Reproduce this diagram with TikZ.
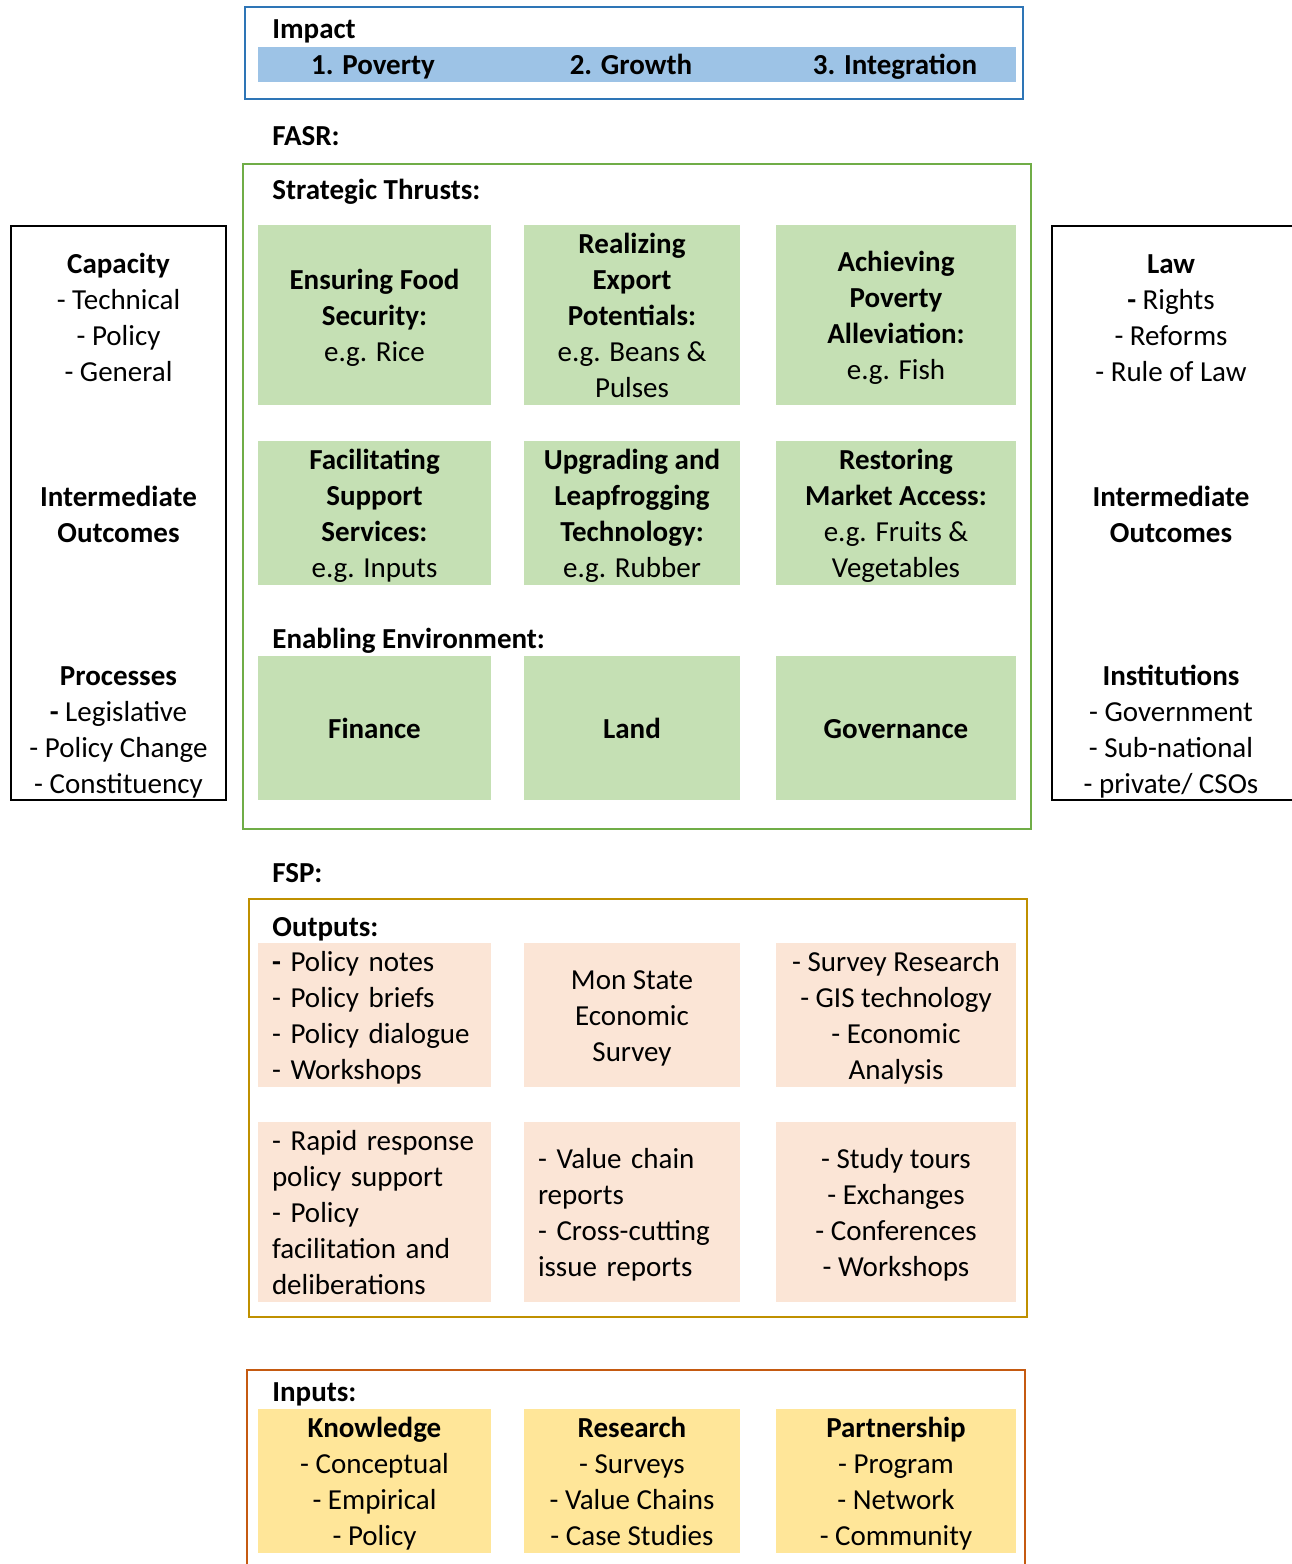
\documentclass[tikz,border=0pt]{standalone}
\usepackage{fontspec}
\setmainfont{Carlito}
\usepackage{tikz}
\usetikzlibrary{positioning}
\definecolor{impblue}{HTML}{2E75B6}
\definecolor{barblue}{HTML}{9DC3E6}
\definecolor{fasrgreen}{HTML}{70AD47}
\definecolor{cellgreen}{HTML}{C5E0B4}
\definecolor{fspgold}{HTML}{BF9000}
\definecolor{cellpeach}{HTML}{FBE5D6}
\definecolor{inorange}{HTML}{C55A11}
\definecolor{cellyellow}{HTML}{FFE699}
\newcommand{\cellstrut}{\rule{0pt}{14.1pt}}

\tikzset{
  txt/.style={font=\fontsize{14.5}{18}\selectfont, inner sep=0pt, align=center,
    execute at end node={\rule[-3.5pt]{0pt}{3.5pt}}},
  head/.style={txt, font=\fontsize{14.5}{18}\selectfont\bfseries, anchor=base west},
  frame/.style={draw, line width=1pt},
  gcell/.style={txt, fill=cellgreen},
  pcell/.style={txt, fill=cellpeach},
  ycell/.style={txt, fill=cellyellow},
  lcell/.style={align=left, inner xsep=7pt, inner ysep=0pt},
  colA/.style={minimum width=116.5pt},
  colB/.style={minimum width=108pt},
  colC/.style={minimum width=120pt},
  tall/.style={minimum height=90pt},
  short/.style={minimum height=72pt}
}

\begin{document}
\begin{tikzpicture}[x=0.5pt, y=-0.5pt]
\useasboundingbox (0,0) rectangle (1291,1564);

% impact
\draw[frame, impblue, line width=1.2pt] (245,7) rectangle (1023,99);
\node[fill=barblue, minimum width=379pt, minimum height=17.5pt, inner sep=0pt] (bar) at (637,64.5) {};
\node[head] (imp) at (272,38) {Impact};
\node[txt, font=\fontsize{14.5}{18}\selectfont\bfseries, anchor=base] (pov) at (373,74) {1. Poverty};
\node[txt, font=\fontsize{14.5}{18}\selectfont\bfseries, anchor=base] (grw) at (631,74) {2. Growth};
\node[txt, font=\fontsize{14.5}{18}\selectfont\bfseries, anchor=base] (intg) at (895,74) {3. Integration};

% FASR
\node[head] (fasr) at (272,145) {FASR:};
\draw[frame, fasrgreen] (243,164) rectangle (1031,829);
\node[head] (thr) at (272,199) {Strategic Thrusts:};
\node[gcell, colA, tall] (g11) at (374.5,315) {\cellstrut\textbf{Ensuring Food}\\\textbf{Security:}\\e.g. Rice};
\node[gcell, colB, tall] (g12) at (632,315) {\cellstrut\textbf{Realizing}\\\textbf{Export}\\\textbf{Potentials:}\\e.g. Beans \&\\Pulses};
\node[gcell, colC, tall] (g13) at (896,315) {\cellstrut\textbf{Achieving}\\\textbf{Poverty}\\\textbf{Alleviation:}\\e.g. Fish};
\node[gcell, colA, short] (g21) at (374.5,513) {\cellstrut\textbf{Facilitating}\\\textbf{Support}\\\textbf{Services:}\\e.g. Inputs};
\node[gcell, colB, short] (g22) at (632,513) {\cellstrut\textbf{Upgrading and}\\\textbf{Leapfrogging}\\\textbf{Technology:}\\e.g. Rubber};
\node[gcell, colC, short] (g23) at (896,513) {\cellstrut\textbf{Restoring}\\\textbf{Market Access:}\\e.g. Fruits \&\\Vegetables};
\node[head] (env) at (272,648) {Enabling Environment:};
\node[gcell, colA, short] (fin) at (374.5,728) {\cellstrut\textbf{Finance}};
\node[gcell, colB, short] (land) at (632,728) {\cellstrut\textbf{Land}};
\node[gcell, colC, short] (gov) at (896,728) {\cellstrut\textbf{Governance}};

% side boxes
\node[frame, minimum width=107.5pt, minimum height=287pt, inner sep=0pt] (lbox) at (118.5,513) {};
\node[txt] (cap) at (118.5,317) {\cellstrut\textbf{Capacity}\\- Technical\\- Policy\\- General};
\node[txt] (lmid) at (118.5,514) {\cellstrut\textbf{Intermediate}\\\textbf{Outcomes}};
\node[txt] (proc) at (118.5,729) {\cellstrut\textbf{Processes}\\\textbf{-} Legislative\\- Policy Change\\- Constituency};
\node[frame, minimum width=124pt, minimum height=287pt, inner sep=0pt] (rbox) at (1176,513) {};
\node[txt] (law) at (1171,317) {\cellstrut\textbf{Law}\\\textbf{-} Rights\\- Reforms\\- Rule of Law};
\node[txt] (rmid) at (1171,514) {\cellstrut\textbf{Intermediate}\\\textbf{Outcomes}};
\node[txt] (inst) at (1171,729) {\cellstrut\textbf{Institutions}\\- Government\\- Sub-national\\- private/ CSOs};

% FSP outputs
\node[head] (fsp) at (272,882) {FSP:};
\draw[frame, fspgold] (249,899) rectangle (1027,1317);
\node[head] (outp) at (272,936) {Outputs:};
\node[pcell, lcell, text width=102.5pt, short] (o11) at (374.5,1015) {\cellstrut\textbf{-} Policy notes\\- Policy briefs\\- Policy dialogue\\- Workshops};
\node[pcell, colB, short] (o12) at (632,1015) {\cellstrut Mon State\\Economic\\Survey};
\node[pcell, colC, short] (o13) at (896,1015) {\cellstrut- Survey Research\\- GIS technology\\- Economic\\Analysis};
\node[pcell, lcell, text width=102.5pt, tall] (o21) at (374.5,1212) {\cellstrut- Rapid response\\policy support\\- Policy\\facilitation and\\deliberations};
\node[pcell, lcell, text width=94pt, tall] (o22) at (632,1212) {\cellstrut- Value chain\\reports\\- Cross-cutting\\issue reports};
\node[pcell, colC, tall] (o23) at (896,1212) {\cellstrut- Study tours\\- Exchanges\\- Conferences\\- Workshops};

% inputs
\draw[frame, inorange] (247,1370) rectangle (1025,1600);
\node[head] (inp) at (272,1401) {Inputs:};
\node[ycell, colA, short] (kn) at (374.5,1481) {\cellstrut\textbf{Knowledge}\\- Conceptual\\- Empirical\\- Policy};
\node[ycell, colB, short] (res) at (632,1481) {\cellstrut\textbf{Research}\\- Surveys\\- Value Chains\\- Case Studies};
\node[ycell, colC, short] (part) at (896,1481) {\cellstrut\textbf{Partnership}\\- Program\\- Network\\- Community};
\end{tikzpicture}
\end{document}
